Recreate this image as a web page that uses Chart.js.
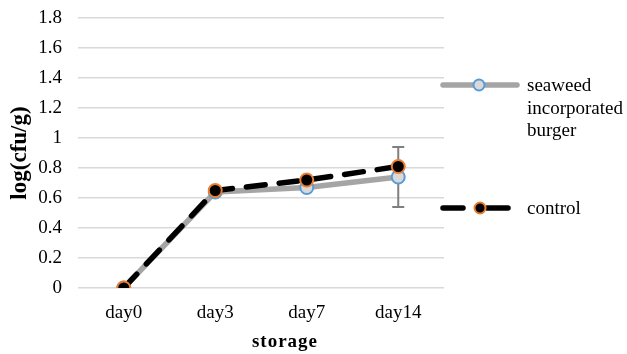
<!DOCTYPE html>
<html>
<head>
<meta charset="utf-8">
<script src="https://cdn.jsdelivr.net/npm/chart.js@4.4.1/dist/chart.umd.min.js"></script>
<style>
  html, body { margin: 0; padding: 0; background: #fff; }
  #wrap { width: 627px; height: 354px; }
</style>
</head>
<body>
<div id="wrap"><canvas id="chart" width="627" height="354"></canvas></div>
<script>
const days = ["day0", "day3", "day7", "day14"];
const seaweed = [0, 0.64, 0.67, 0.74];
const control = [0, 0.65, 0.72, 0.81];
// only day14 of the seaweed series shows an error bar
const seaweedErr = [0, 0, 0, 0.2];

const serif = "'Liberation Serif', 'Times New Roman', serif";

const errorBars = {
  id: "errorBars",
  beforeDatasetsDraw(chart) {
    const ctx = chart.ctx;
    const x = chart.scales.x;
    const y = chart.scales.y;
    ctx.save();
    ctx.strokeStyle = "#7f7f7f";
    ctx.lineWidth = 2;
    seaweedErr.forEach((e, i) => {
      if (!e) return;
      const px = x.getPixelForValue(i);
      const top = y.getPixelForValue(seaweed[i] + e);
      const bot = y.getPixelForValue(seaweed[i] - e);
      ctx.beginPath();
      ctx.moveTo(px, top); ctx.lineTo(px, bot);
      ctx.moveTo(px - 6, top); ctx.lineTo(px + 6, top);
      ctx.moveTo(px - 6, bot); ctx.lineTo(px + 6, bot);
      ctx.stroke();
    });
    ctx.restore();
  }
};

const sideLegend = {
  id: "sideLegend",
  afterDraw(chart) {
    const ctx = chart.ctx;
    ctx.save();
    ctx.lineCap = "round";
    // seaweed entry
    ctx.strokeStyle = "#a5a5a5";
    ctx.lineWidth = 5.5;
    ctx.beginPath(); ctx.moveTo(443, 85); ctx.lineTo(517, 85); ctx.stroke();
    ctx.beginPath(); ctx.arc(479, 85, 5.5, 0, Math.PI * 2);
    ctx.fillStyle = "#d9d9d9"; ctx.fill();
    ctx.lineWidth = 2; ctx.strokeStyle = "#5b9bd5"; ctx.stroke();
    // control entry
    ctx.strokeStyle = "#000";
    ctx.lineWidth = 5.5;
    ctx.beginPath(); ctx.moveTo(443, 208); ctx.lineTo(463, 208); ctx.stroke();
    ctx.beginPath(); ctx.moveTo(487, 208); ctx.lineTo(508, 208); ctx.stroke();
    ctx.beginPath(); ctx.arc(480, 208, 5.5, 0, Math.PI * 2);
    ctx.fillStyle = "#000"; ctx.fill();
    ctx.lineWidth = 2; ctx.strokeStyle = "#ed7d31"; ctx.stroke();
    // text
    ctx.fillStyle = "#000";
    ctx.font = "19px " + serif;
    ctx.textBaseline = "middle";
    ctx.fillText("seaweed", 527, 86);
    ctx.fillText("incorporated", 527, 109);
    ctx.fillText("burger", 527, 131);
    ctx.fillText("control", 527, 209);
    // x axis title, sits right of centre like the original
    ctx.font = "bold 19px " + serif;
    ctx.letterSpacing = "1px";
    ctx.textAlign = "center";
    ctx.fillText("storage", 285, 342);
    ctx.restore();
  }
};

new Chart(document.getElementById("chart"), {
  type: "line",
  data: {
    labels: days,
    datasets: [
      {
        label: "seaweed incorporated burger",
        data: seaweed,
        order: 1,
        borderColor: "#a5a5a5",
        borderWidth: 5.5,
        pointRadius: 6.5,
        pointBackgroundColor: "#d9d9d9",
        pointBorderColor: "#5b9bd5",
        pointBorderWidth: 2,
        tension: 0,
      },
      {
        label: "control",
        data: control,
        order: 0,
        borderColor: "#000",
        borderWidth: 5.5,
        borderDash: [19, 14],
        borderCapStyle: "round",
        pointRadius: 6.5,
        pointBackgroundColor: "#000",
        pointBorderColor: "#ed7d31",
        pointBorderWidth: 2,
        tension: 0,
      },
    ],
  },
  options: {
    responsive: false,
    animation: false,
    layout: { autoPadding: false, padding: { top: 18, right: 183, left: 0, bottom: 0 } },
    plugins: {
      legend: { display: false },
      tooltip: { enabled: false },
    },
    scales: {
      x: {
        offset: true,
        grid: { display: false, drawTicks: false },
        border: { display: false },
        ticks: { color: "#000", font: { family: serif, size: 19 }, padding: 14 },
        afterFit(s) { s.height = 66; },
      },
      y: {
        min: 0,
        max: 1.8,
        ticks: {
          stepSize: 0.2,
          color: "#000",
          font: { family: serif, size: 19 },
          padding: 16,
          callback: (v) => Math.round(v * 10) / 10,
        },
        grid: { color: "#d9d9d9", lineWidth: 1.5, drawTicks: false },
        border: { display: false },
        title: {
          display: true,
          text: "log(cfu/g)",
          color: "#000",
          font: { family: serif, size: 23, weight: "bold" },
          padding: { top: 6, bottom: 2 },
        },
        afterFit(s) {
          s.width = 78;
          s.paddingTop = 0;
          s.paddingBottom = 0;
        },
      },
    },
  },
  plugins: [errorBars, sideLegend],
});
</script>
</body>
</html>
